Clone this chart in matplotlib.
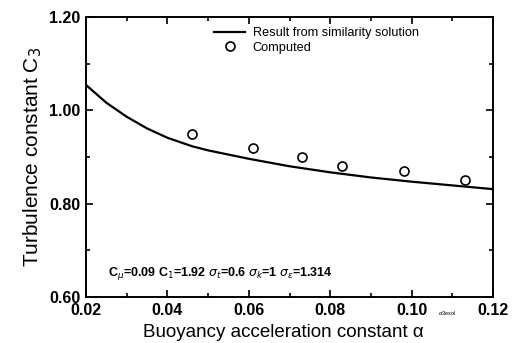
import matplotlib.pyplot as plt
from matplotlib.ticker import MultipleLocator

# similarity-solution curve
alpha_curve = [0.020, 0.025, 0.030, 0.035, 0.040, 0.046, 0.050, 0.060, 0.070, 0.080, 0.090, 0.100, 0.110, 0.120]
c3_curve = [1.054, 1.016, 0.986, 0.961, 0.941, 0.923, 0.914, 0.896, 0.880, 0.867, 0.856, 0.847, 0.839, 0.831]

# computed points
alpha_pts = [0.046, 0.061, 0.073, 0.083, 0.098, 0.113]
c3_pts = [0.950, 0.920, 0.900, 0.880, 0.870, 0.850]

plt.rcParams['font.family'] = ['Liberation Sans', 'DejaVu Sans']

fig = plt.figure(figsize=(5.12, 3.43), dpi=100)
ax = fig.add_axes([0.168, 0.134, 0.795, 0.817])

ax.plot(alpha_curve, c3_curve, color='black', lw=1.6, label='Result from similarity solution')
ax.plot(alpha_pts, c3_pts, 'o', mfc='none', mec='black', mew=1.2, ms=6.5, label='Computed')

ax.set_xlim(0.02, 0.12)
ax.set_ylim(0.60, 1.20)
ax.xaxis.set_major_locator(MultipleLocator(0.02))
ax.xaxis.set_minor_locator(MultipleLocator(0.01))
ax.yaxis.set_major_locator(MultipleLocator(0.2))
ax.yaxis.set_minor_locator(MultipleLocator(0.1))
ax.xaxis.set_major_formatter(plt.FormatStrFormatter('%.2f'))
ax.yaxis.set_major_formatter(plt.FormatStrFormatter('%.2f'))
ax.tick_params(which='both', direction='in', top=True, right=True, width=1.2)
ax.tick_params(which='major', length=5, labelsize=11.5, pad=4)
ax.tick_params(which='minor', length=3)
for lab in ax.get_xticklabels() + ax.get_yticklabels():
    lab.set_fontweight('bold')
for s in ax.spines.values():
    s.set_linewidth(1.4)

ax.set_xlabel('Buoyancy acceleration constant α', fontsize=13.5, labelpad=3)
ax.xaxis.set_label_coords(0.485, -0.095)
ax.set_ylabel(r'Turbulence constant C$_3$', fontsize=15, labelpad=4)

ax.text(0.0255, 0.645,
        r'C$_\mu$=0.09 C$_1$=1.92 $\sigma_t$=0.6 $\sigma_k$=1 $\sigma_\varepsilon$=1.314',
        fontsize=9, fontweight='bold')
fig.text(0.855, 0.082, r'$\alpha$3exol', fontsize=4)

ax.legend(loc='upper left', bbox_to_anchor=(0.29, 1.0), frameon=False, fontsize=9.2,
          handlelength=2.4, handletextpad=0.6, labelspacing=0.2, borderpad=0.3)

fig.savefig('out.png', dpi=100)
